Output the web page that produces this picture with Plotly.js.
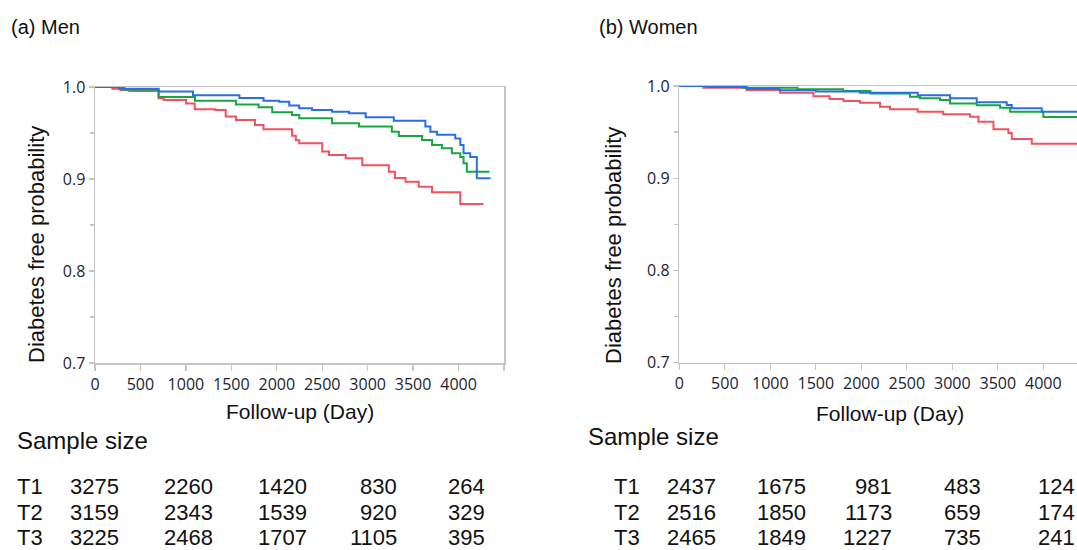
<!DOCTYPE html>
<html>
<head>
<meta charset="utf-8">
<script src="https://cdn.plot.ly/plotly-3.0.1.min.js"></script>
<style>
html,body{margin:0;padding:0;background:#fff;overflow:hidden;}
#chart{width:1077px;height:550px;}
</style>
</head>
<body>
<div id="chart"></div>
<script>
// ---------- data ----------
const xTickVals = [0, 500, 1000, 1500, 2000, 2500, 3000, 3500, 4000, 4500];
const xTickText = ['0', '500', '1000', '1500', '2000', '2500', '3000', '3500', '4000', ''];

// Men
const menRedDay   = [0, 190, 280, 378, 700, 757, 1003, 1097, 1324, 1438, 1551, 1760, 1854, 2167, 2210, 2247, 2500, 2575, 2758, 2941, 3233, 3300, 3416, 3562, 3708, 4019, 4274];
const menRedProb  = [1.0, 0.998, 0.9967, 0.9957, 0.9877, 0.986, 0.982, 0.9757, 0.975, 0.968, 0.964, 0.9587, 0.954, 0.947, 0.942, 0.9388, 0.93, 0.926, 0.9225, 0.915, 0.908, 0.901, 0.897, 0.8916, 0.8855, 0.8728, 0.8728];
const menGreenDay = [0, 322, 700, 1100, 1550, 1800, 1950, 2167, 2247, 2608, 2904, 3266, 3343, 3599, 3708, 3817, 3927, 4019, 4055, 4091, 4340];
const menGreenProb= [1.0, 0.997, 0.989, 0.985, 0.981, 0.978, 0.9725, 0.9696, 0.966, 0.9605, 0.957, 0.9514, 0.9467, 0.9424, 0.937, 0.9333, 0.928, 0.924, 0.917, 0.908, 0.908];
const menBlueDay  = [0, 265, 700, 1078, 1589, 1854, 2027, 2137, 2247, 2389, 2608, 2795, 2978, 3288, 3635, 3690, 3763, 3964, 4019, 4055, 4128, 4201, 4352];
const menBlueProb = [1.0, 0.998, 0.995, 0.991, 0.988, 0.985, 0.984, 0.980, 0.9768, 0.975, 0.973, 0.9714, 0.967, 0.9634, 0.957, 0.9514, 0.948, 0.944, 0.937, 0.928, 0.924, 0.9008, 0.9008];

// Women
const womRedDay   = [0, 264, 740, 1107, 1474, 1650, 1804, 1987, 2205, 2315, 2620, 2900, 3195, 3287, 3452, 3616, 3653, 3873, 4370];
const womRedProb  = [1.0, 0.998, 0.9957, 0.9928, 0.989, 0.986, 0.9837, 0.9819, 0.9776, 0.9747, 0.972, 0.9693, 0.9667, 0.9613, 0.953, 0.949, 0.9425, 0.9375, 0.9375];
const womGreenDay = [0, 300, 700, 1300, 1800, 2100, 2535, 2645, 2865, 2975, 3268, 3525, 3635, 4000, 4370];
const womGreenProb= [1.0, 0.999, 0.998, 0.9965, 0.9945, 0.992, 0.9884, 0.9866, 0.9848, 0.981, 0.979, 0.9765, 0.972, 0.9664, 0.9664];
const womBlueDay  = [0, 340, 740, 1100, 1500, 1985, 2620, 2975, 3268, 3598, 3653, 3983, 4370];
const womBlueProb = [1.0, 0.999, 0.997, 0.9955, 0.994, 0.9928, 0.990, 0.9866, 0.9823, 0.9794, 0.9758, 0.972, 0.972];

// Sample size tables
const groupLabels = ['T1', 'T2', 'T3'];
const menT1 = [3275, 2260, 1420, 830, 264];
const menT2 = [3159, 2343, 1539, 920, 329];
const menT3 = [3225, 2468, 1707, 1105, 395];
const womT1 = [2437, 1675, 981, 483, 124];
const womT2 = [2516, 1850, 1173, 659, 174];
const womT3 = [2465, 1849, 1227, 735, 241];

// ---------- styling / layout ----------
const W = 1077, H = 550;
const fx = p => p / W;
const fy = p => 1 - p / H;

const RED = '#f2515f', GREEN = '#16a83c', BLUE = '#2b6fe4';
const AXC = '#c4c4c4';
const TXT = 'Liberation Sans, Arial, sans-serif';

function stepTrace(x, y, color, xa, ya) {
  return {x: x, y: y, type: 'scatter', mode: 'lines', line: {shape: 'hv', color: color, width: 2},
          xaxis: xa, yaxis: ya, hoverinfo: 'skip'};
}

const data = [
  stepTrace(menRedDay, menRedProb, RED, 'x', 'y'),
  stepTrace(menGreenDay, menGreenProb, GREEN, 'x', 'y'),
  stepTrace(menBlueDay, menBlueProb, BLUE, 'x', 'y'),
  stepTrace(womRedDay, womRedProb, RED, 'x2', 'y2'),
  stepTrace(womGreenDay, womGreenProb, GREEN, 'x2', 'y2'),
  stepTrace(womBlueDay, womBlueProb, BLUE, 'x2', 'y2')
];

const tickFont = {family: 'Open Sans, sans-serif', size: 16, color: '#1c2430'};

function xAxis(domain, range, anchor) {
  return {domain: domain, range: range, anchor: anchor, tickmode: 'array', tickvals: xTickVals, ticktext: xTickText,
          ticks: 'outside', ticklen: 6, tickwidth: 1.3, tickcolor: AXC, showline: true, linecolor: AXC, linewidth: 1.5,
          mirror: true, showgrid: false, zeroline: false, tickfont: tickFont, fixedrange: true};
}
function yAxis(domain, anchor, mirror) {
  return {domain: domain, range: [0.7, 1.0], anchor: anchor, tick0: 0.7, dtick: 0.1, tickformat: '.1f',
          ticks: 'outside', ticklen: 5, tickwidth: 1.3, tickcolor: AXC,
          minor: {tick0: 0.7, dtick: 0.05, ticks: 'outside', ticklen: 4, tickwidth: 1.3, tickcolor: AXC, showgrid: false},
          showline: true, linecolor: AXC, linewidth: 1.5, mirror: mirror, showgrid: false, zeroline: false,
          tickfont: tickFont, fixedrange: true};
}

const annotations = [];
function txt(text, x, y, size, xanchor, extra) {
  annotations.push(Object.assign({text: text, x: fx(x), y: fy(y), xref: 'paper', yref: 'paper', showarrow: false,
    xanchor: xanchor, yanchor: 'middle', font: {family: TXT, size: size, color: '#111'}, borderpad: 0}, extra || {}));
}

// panel titles
txt('(a) Men', 10, 27, 20, 'left');
txt('(b) Women', 598, 27, 20, 'left');
// y titles
txt('Diabetes free probability', 36, 245, 22, 'center', {textangle: -90});
txt('Diabetes free probability', 613, 246, 22, 'center', {textangle: -90});
// x titles
txt('Follow-up (Day)', 300, 411, 21, 'center');
txt('Follow-up (Day)', 890, 413, 21, 'center');
// sample size headers
txt('Sample size', 16, 440, 24, 'left');
txt('Sample size', 587, 436, 24, 'left');

// tables
const rowY = [486, 512, 537];
const menRows = [menT1, menT2, menT3];
const womRows = [womT1, womT2, womT3];
const menCols = [120, 214, 308, 398, 486];
const womCols = [717, 807, 893, 982, 1076];
for (let r = 0; r < 3; r++) {
  txt(groupLabels[r], 16, rowY[r], 22, 'left');
  txt(groupLabels[r], 613, rowY[r], 22, 'left');
  for (let c = 0; c < 5; c++) {
    txt(String(menRows[r][c]), menCols[c], rowY[r], 22, 'right');
    txt(String(womRows[r][c]), womCols[c], rowY[r], 22, 'right');
  }
}

const layout = {
  width: W, height: H, margin: {l: 0, r: 0, t: 0, b: 0, pad: 0},
  paper_bgcolor: '#fff', plot_bgcolor: '#fff', showlegend: false,
  xaxis: xAxis([fx(95), fx(504)], [0, 4500], 'y'),
  yaxis: yAxis([fy(363), fy(87)], 'x', true),
  xaxis2: xAxis([fx(679.3), 1], [0, 4370], 'y2'),
  yaxis2: yAxis([fy(362.7), fy(86)], 'x2', false),
  annotations: annotations
};

Plotly.newPlot('chart', data, layout, {displayModeBar: false, staticPlot: true});
</script>
</body>
</html>
